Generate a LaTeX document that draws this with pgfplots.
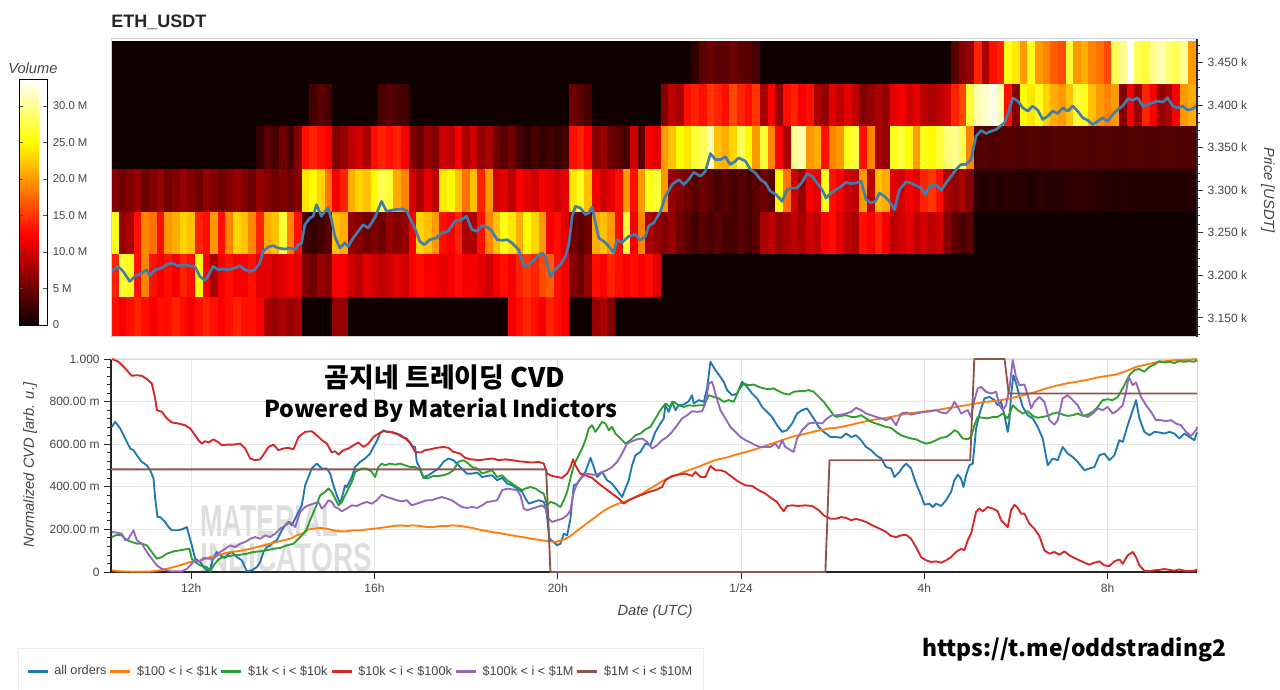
\documentclass[border=0pt]{standalone}
\usepackage{fontspec}
\setmainfont{Liberation Sans}
\newfontfamily\krfont{Noto Sans CJK KR}
\usepackage{graphicx}
\usepackage{pgfplots}
\usepackage{pgfplotstable}
\pgfplotsset{compat=1.18}
\definecolor{cblue}{HTML}{1F77B4}
\definecolor{corange}{HTML}{FF7F0E}
\definecolor{cgreen}{HTML}{2CA02C}
\definecolor{cred}{HTML}{D62728}
\definecolor{cpurple}{HTML}{9467BD}
\definecolor{cbrown}{HTML}{8C564B}
\definecolor{pricecol}{RGB}{65,125,175}
\definecolor{lblgray}{RGB}{68,68,68}
\definecolor{gridgray}{RGB}{230,230,230}
\definecolor{wmgray}{RGB}{220,222,224}

\pgfdeclareplotmark{cell}{%
  \pgfpathrectangle{\pgfqpoint{-2.95pt}{-16.1pt}}{\pgfqpoint{5.9pt}{32.2pt}}%
  \pgfusepathqfill}

\pgfplotstableread{
t r1 r2 r3 r4 r5 r6 r7 r8
10.333 13 14 26 6 0.3 0.3 0.3 0.3
10.500 12 27 7 5 0.3 0.3 0.3 0.3
10.667 13 26 8 6 0.3 0.3 0.3 0.3
10.833 14 13 13 7 0.3 0.3 0.3 0.3
11.000 13 19 19 5 0.3 0.3 0.3 0.3
11.167 12 13 18 6 0.3 0.3 0.3 0.3
11.333 13 12 13 7 0.3 0.3 0.3 0.3
11.500 13 13 20 5 0.3 0.3 0.3 0.3
11.667 14 12 21 6 0.3 0.3 0.3 0.3
11.833 13 14 23 7 0.3 0.3 0.3 0.3
12.000 12 13 22 6 0.3 0.3 0.3 0.3
12.167 13 25 14 5 0.3 0.3 0.3 0.3
12.333 14 12 13 7 0.3 0.3 0.3 0.3
12.500 13 8 20 6 0.3 0.3 0.3 0.3
12.667 12 12 13 5 0.3 0.3 0.3 0.3
12.833 13 13 19 6 0.3 0.3 0.3 0.3
13.000 14 12 23 7 0.3 0.3 0.3 0.3
13.167 13 12 22 6 0.3 0.3 0.3 0.3
13.333 13 13 19 5 0.3 0.3 0.3 0.3
13.500 12 11 14 7 2 0.3 0.3 0.3
13.667 8 11 21 6 4 0.3 0.3 0.3
13.833 7 10 22 5 3 0.3 0.3 0.3
14.000 8 11 27 6 5 0.3 0.3 0.3
14.167 7 12 19 5 3 0.3 0.3 0.3
14.333 8 11 13 6 6 0.3 0.3 0.3
14.500 0.3 6 3 24 13 0.3 0.3 0.3
14.667 0.3 5 2 25 14 3 0.3 0.3
14.833 0.3 7 3 23 13 4 0.3 0.3
15.000 0.3 6 4 18 12 3 0.3 0.3
15.167 7 12 22 12 6 0.3 0.3 0.3
15.333 7 12 21 14 7 0.3 0.3 0.3
15.500 0.3 10 7 21 9 0.3 0.3 0.3
15.667 0.3 9 6 23 10 0.3 0.3 0.3
15.833 0.3 11 5 22 8 0.3 0.3 0.3
16.000 0.3 10 6 25 13 0.3 0.3 0.3
16.167 0.3 9 5 28 14 3 0.3 0.3
16.333 0.3 10 7 27 13 4 0.3 0.3
16.500 0.3 11 6 21 14 3 0.3 0.3
16.667 0.3 10 7 19 12 3 0.3 0.3
16.833 0.3 12 12 10 6 0.3 0.3 0.3
17.000 0.3 13 23 8 5 0.3 0.3 0.3
17.167 0.3 12 22 11 7 0.3 0.3 0.3
17.333 0.3 12 20 9 6 0.3 0.3 0.3
17.500 0.3 11 13 24 10 0.3 0.3 0.3
17.667 0.3 12 12 25 9 0.3 0.3 0.3
17.833 0.3 13 14 22 12 0.3 0.3 0.3
18.000 0.3 12 8 18 8 0.3 0.3 0.3
18.167 0.3 12 8 22 10 0.3 0.3 0.3
18.333 0.3 11 13 14 7 0.3 0.3 0.3
18.500 0.3 10 19 20 8 0.3 0.3 0.3
18.667 0.3 12 22 10 5 0.3 0.3 0.3
18.833 0.3 13 26 11 4 0.3 0.3 0.3
19.000 12 12 24 9 5 0.3 0.3 0.3
19.167 13 14 21 12 3 0.3 0.3 0.3
19.333 14 15 25 11 2 0.3 0.3 0.3
19.500 13 14 23 10 3 0.3 0.3 0.3
19.667 12 16 20 12 2 0.3 0.3 0.3
19.833 14 17 12 11 3 0.3 0.3 0.3
20.000 13 13 13 10 2 0.3 0.3 0.3
20.167 12 12 11 11 3 0.3 0.3 0.3
20.333 0.3 6 5 24 13 5 0.3 0.3
20.500 0.3 5 4 26 14 4 0.3 0.3
20.667 0.3 7 5 22 12 3 0.3 0.3
20.833 7 13 21 12 6 0.3 0.3 0.3
21.000 8 12 22 10 7 0.3 0.3 0.3
21.167 6 14 20 11 5 0.3 0.3 0.3
21.333 0.3 13 13 13 4 0.3 0.3 0.3
21.500 0.3 12 27 20 3 0.3 0.3 0.3
21.667 0.3 13 12 13 10 0.3 0.3 0.3
21.833 0.3 12 19 20 4 0.3 0.3 0.3
22.000 0.3 13 8 26 12 0.3 0.3 0.3
22.167 0.3 11 7 27 11 0.3 0.3 0.3
22.333 0.3 0.3 6 20 20 6 0.3 0.3
22.500 0.3 0.3 7 7 22 9 0.3 0.3
22.667 0.3 0.3 5 6 25 8 0.3 0.3
22.833 0.3 0.3 4 5 24 13 0.3 0.3
23.000 0.3 0.3 3 4 27 14 2 0.3
23.167 0.3 0.3 4 5 28 13 4 0.3
23.333 0.3 0.3 3 4 31 15 5 0.3
23.500 0.3 0.3 4 3 22 14 4 0.3
23.667 0.3 0.3 3 4 21 13 4 0.3
23.833 0.3 0.3 3 3 23 16 5 0.3
24.000 0.3 0.3 4 4 28 14 4 0.3
24.167 0.3 0.3 3 3 25 13 4 0.3
24.333 0.3 0.3 4 4 20 15 3 0.3
24.500 0.3 0.3 8 5 27 8 0.3 0.3
24.667 0.3 0.3 9 4 19 12 0.3 0.3
24.833 0.3 0.3 7 25 12 7 0.3 0.3
25.000 0.3 0.3 8 18 8 13 0.3 0.3
25.167 0.3 0.3 9 10 30 14 0.3 0.3
25.333 0.3 0.3 8 7 31 12 0.3 0.3
25.500 0.3 0.3 10 12 20 13 0.3 0.3
25.667 0.3 0.3 9 11 21 8 0.3 0.3
25.833 0.3 0.3 12 26 13 7 0.3 0.3
26.000 0.3 0.3 13 13 19 11 0.3 0.3
26.167 0.3 0.3 11 12 20 9 0.3 0.3
26.333 0.3 0.3 9 10 26 11 0.3 0.3
26.500 0.3 0.3 8 9 27 9 0.3 0.3
26.667 0.3 0.3 13 20 13 6 0.3 0.3
26.833 0.3 0.3 12 9 19 7 0.3 0.3
27.000 0.3 0.3 14 22 8 8 0.3 0.3
27.167 0.3 0.3 12 21 7 7 0.3 0.3
27.333 0.3 0.3 9 11 26 11 0.3 0.3
27.500 0.3 0.3 10 10 27 12 0.3 0.3
27.667 0.3 0.3 11 12 25 10 0.3 0.3
27.833 0.3 0.3 9 11 20 11 0.3 0.3
28.000 0.3 0.3 10 14 26 9 0.3 0.3
28.167 0.3 0.3 9 15 25 8 0.3 0.3
28.333 0.3 0.3 10 13 27 9 0.3 0.3
28.500 0.3 0.3 6 8 29 10 0.3 0.3
28.667 0.3 0.3 4 7 30 14 4 4
28.833 0.3 0.3 3 8 28 16 6 4
29.000 0.3 0.3 4 6 19 27 7 4
29.167 0.3 0.3 0.3 1.5 3.5 31 14 4
29.333 0.3 0.3 0.3 1.2 3.6 32 8 4
29.500 0.3 0.3 0.3 1.6 3.4 33 13 4
29.667 0.3 0.3 0.3 1.3 3.5 31 14 4
29.833 0.3 0.3 0.3 1.8 3.7 13 26 14
30.000 0.3 0.3 0.3 1.4 3.5 6 24 14
30.167 0.3 0.3 0.3 1.5 3.3 25 20 14
30.333 0.3 0.3 0.3 1.2 3.6 24 26 14
30.500 0.3 0.3 0.3 1.6 3.5 26 20 14
30.667 0.3 0.3 0.3 1.4 3.4 23 19 14
30.833 0.3 0.3 0.3 1.3 3.6 21 17 14
31.000 0.3 0.3 0.3 1.5 3.5 20 16 14
31.167 0.3 0.3 0.3 1.7 3.7 22 27 14
31.333 0.3 0.3 0.3 1.8 3.5 27 20 14
31.500 0.3 0.3 0.3 1.9 3.6 26 21 14
31.667 0.3 0.3 0.3 1.8 3.4 22 19 14
31.833 0.3 0.3 0.3 1.5 3.5 20 18 14
32.000 0.3 0.3 0.3 1.3 3.6 19 16 14
32.167 0.3 0.3 0.3 1.2 3.5 20 28 14
32.333 0.3 0.3 0.3 1.4 3.4 6 30 14
32.500 0.3 0.3 0.3 1.3 3.5 12 33.5 14
32.667 0.3 0.3 0.3 1.2 3.6 7 28 14
32.833 0.3 0.3 0.3 1.3 3.5 14 27 14
33.000 0.3 0.3 0.3 1.2 3.4 12 30 14
33.167 0.3 0.3 0.3 1.3 3.5 7 31 14
33.333 0.3 0.3 0.3 1.2 3.6 8 29 14
33.500 0.3 0.3 0.3 1.3 3.5 12 28 14
33.667 0.3 0.3 0.3 1.2 3.4 20 30 14
33.833 0.3 0.3 0.3 1.3 3.5 21 20 14
34.000 0.3 0.3 0.3 1.2 3.5 20 21 14
}\heat

\pgfplotsset{
  cellrow/.style={scatter, only marks, mark=cell, point meta=explicit,
    scatter/use mapped color={draw=none, fill=mapped color}},
}

\begin{document}
\begin{tikzpicture}[x=1pt,y=1pt]
\useasboundingbox (0,0) rectangle (960,-516.75);

% watermark
\node[anchor=south west, inner sep=0, text=wmgray] at (150,-402.5) {\resizebox{103.5pt}{23pt}{\bfseries MATERIAL}};
\node[anchor=south west, inner sep=0, text=wmgray] at (150,-429) {\resizebox{129pt}{21pt}{\bfseries INDICATORS}};

% ---------------- heatmap ----------------
\begin{axis}[
  at={(83.25pt,-28.875pt)}, anchor=north west,
  scale only axis, width=814.5pt, height=223.5pt,
  xmin=10.25, xmax=33.95, ymin=3128, ymax=3478,
  axis x line=none, axis y line*=right,
  axis on top,
  clip marker paths=true,
  colormap={hotmap}{rgb255(0cm)=(10,0,0) rgb255(3.65cm)=(255,0,0) rgb255(7.46cm)=(255,255,0) rgb255(10cm)=(255,255,255)},
  point meta min=0, point meta max=33.7,
  ytick={3150,3200,3250,3300,3350,3400,3450},
  yticklabels={3.150 k,3.200 k,3.250 k,3.300 k,3.350 k,3.400 k,3.450 k},
  minor ytick={3130,3140,...,3470},
  tick align=outside, major tick length=4.5pt, minor tick length=2.5pt,
  tick style={black!80, line width=0.6pt},
  yticklabel style={font=\fontsize{9}{10}\selectfont, text=lblgray},
  y axis line style={black!85, line width=0.8pt},
  colorbar,
  colorbar style={
    at={(parent axis.north west)}, anchor=north west,
    xshift=-77.25pt, yshift=-30.375pt,
    scale only axis, width=21pt, height=184.5pt,
    ytick={0,5,10,15,20,25,30},
    yticklabels={0,5 M,10.0 M,15.0 M,20.0 M,25.0 M,30.0 M},
    yticklabel pos=right,
    yticklabel style={font=\fontsize{8.5}{10}\selectfont, text=lblgray, xshift=0.5pt},
    minor ytick={},
    tick align=inside, major tick length=3pt,
    ytick style={black!70},
    axis line style={black, line width=0.6pt},
  },
]
\addplot[cellrow] table[x=t, y expr=3150, meta=r1] {\heat};
\addplot[cellrow] table[x=t, y expr=3200, meta=r2] {\heat};
\addplot[cellrow] table[x=t, y expr=3250, meta=r3] {\heat};
\addplot[cellrow] table[x=t, y expr=3300, meta=r4] {\heat};
\addplot[cellrow] table[x=t, y expr=3350, meta=r5] {\heat};
\addplot[cellrow] table[x=t, y expr=3400, meta=r6] {\heat};
\addplot[cellrow] table[x=t, y expr=3450, meta=r7] {\heat};
\addplot[cellrow] table[x=t, y expr=3500, meta=r8] {\heat};
\addplot[pricecol, line width=2pt, line join=round, no marks] coordinates {
(10.247,3204.4)(10.407,3210.3)(10.516,3204.4)(10.662,3192.7)(10.771,3198.6)(10.916,3202.5)(11.025,3206.4)(11.098,3199.4)(11.207,3206.4)(11.353,3208.4)(11.462,3212.3)(11.571,3214.3)(11.716,3211.1)(11.862,3212.3)(11.971,3211.1)(12.080,3210.3)(12.189,3198.6)(12.298,3193.9)(12.371,3199.4)(12.480,3210.3)(12.589,3206.4)(12.698,3207.2)(12.807,3206.4)(12.953,3208.4)(13.062,3211.1)(13.171,3206.4)(13.280,3204.4)(13.389,3206.4)(13.498,3214.3)(13.571,3228.0)(13.680,3233.1)(13.789,3234.6)(13.898,3231.9)(14.044,3230.7)(14.153,3231.9)(14.262,3229.9)(14.335,3235.8)(14.407,3237.0)(14.480,3259.4)(14.589,3267.2)(14.662,3269.2)(14.735,3282.9)(14.844,3269.2)(14.916,3275.0)(14.989,3279.0)(15.062,3265.3)(15.135,3245.6)(15.244,3231.9)(15.353,3237.8)(15.425,3233.9)(15.535,3243.7)(15.644,3251.5)(15.753,3259.4)(15.862,3255.4)(16.007,3267.2)(16.153,3286.8)(16.262,3275.0)(16.444,3277.0)(16.589,3277.8)(16.698,3275.8)(16.771,3267.2)(16.880,3255.4)(16.989,3239.7)(17.084,3235.8)(17.207,3241.7)(17.353,3243.7)(17.462,3249.6)(17.607,3251.5)(17.753,3263.3)(17.898,3265.3)(18.007,3269.2)(18.080,3259.4)
(18.131,3253.5)(18.240,3251.5)(18.349,3258.2)(18.458,3256.6)(18.567,3251.5)(18.676,3241.7)(18.786,3240.9)(18.895,3241.7)(19.004,3237.8)(19.149,3229.9)(19.258,3211.1)(19.367,3212.3)(19.476,3217.4)(19.585,3224.0)(19.673,3226.0)(19.746,3219.0)(19.840,3197.8)(19.949,3207.2)(20.058,3212.3)(20.167,3222.1)(20.240,3235.8)(20.313,3269.2)(20.385,3280.9)(20.495,3279.0)(20.604,3271.1)(20.676,3273.1)(20.749,3280.2)(20.822,3261.3)(20.895,3243.7)(21.004,3239.7)(21.113,3233.9)(21.222,3226.8)(21.295,3241.7)(21.404,3238.6)(21.549,3245.6)(21.695,3247.6)(21.804,3240.9)(21.913,3245.6)(21.986,3258.2)(22.095,3261.3)(22.240,3275.0)(22.349,3292.7)(22.495,3306.4)(22.640,3312.3)(22.749,3306.4)(22.858,3312.3)(22.967,3320.9)(23.113,3316.2)(23.222,3322.1)(23.331,3342.9)(23.440,3335.8)(23.549,3335.8)(23.658,3339.0)(23.767,3330.0)(23.876,3333.9)(23.949,3337.8)(24.095,3333.9)(24.204,3324.1)(24.313,3320.1)(24.422,3312.3)(24.531,3308.4)(24.640,3298.6)(24.764,3294.6)(24.895,3286.8)(25.004,3300.5)(25.113,3302.5)(25.222,3302.5)(25.331,3309.2)(25.440,3319.4)(25.549,3316.2)(25.658,3308.4)(25.767,3300.5)(25.855,3290.7)(25.949,3295.8)
(26.074,3300.5)(26.183,3304.4)(26.292,3309.2)(26.401,3307.6)(26.510,3308.4)(26.619,3310.3)(26.729,3288.8)(26.838,3284.8)(26.932,3286.8)(27.019,3296.6)(27.129,3292.7)(27.238,3286.8)(27.347,3277.0)(27.456,3300.5)(27.601,3309.6)(27.710,3308.4)(27.819,3305.2)(27.929,3302.5)(28.023,3294.6)(28.110,3304.4)(28.256,3306.4)(28.365,3299.7)(28.474,3308.4)(28.583,3316.2)(28.692,3324.1)(28.801,3330.0)(28.910,3330.0)(29.019,3335.8)(29.129,3363.3)(29.238,3370.0)(29.347,3366.5)(29.456,3369.2)(29.565,3371.1)(29.674,3375.8)(29.747,3379.0)(29.856,3394.7)(29.929,3408.4)(30.038,3404.5)(30.147,3396.6)(30.256,3392.7)(30.365,3398.6)(30.474,3393.9)(30.583,3382.9)(30.692,3386.8)(30.801,3392.7)(30.910,3390.0)(31.019,3396.6)(31.129,3392.7)(31.238,3398.6)(31.347,3392.7)(31.456,3384.8)(31.565,3382.1)(31.674,3377.0)(31.783,3380.9)(31.892,3384.8)(32.001,3380.9)(32.110,3388.8)(32.220,3394.7)(32.329,3398.6)(32.438,3407.2)(32.547,3405.6)(32.656,3408.4)(32.765,3398.6)(32.874,3400.5)(32.983,3402.5)(33.092,3404.5)(33.201,3403.3)(33.310,3408.4)(33.420,3398.6)(33.529,3396.6)(33.638,3398.6)(33.747,3393.9)(33.856,3395.5)(33.950,3399.4)
};
\draw[gray!35, line width=0.6pt] (rel axis cs:0,0) -- (rel axis cs:0,1) -- (rel axis cs:1,1);
\draw[gray!35, line width=0.6pt] (rel axis cs:0,0) -- (rel axis cs:1,0);
\end{axis}

% ---------------- CVD ----------------
\begin{axis}[
  at={(83.25pt,-269.25pt)}, anchor=north west,
  scale only axis, width=814.5pt, height=159.75pt,
  xmin=10.25, xmax=33.95, ymin=0, ymax=1000,
  axis x line*=bottom, axis y line*=left,
  clip=false,
  xtick={12,16,20,24,28,32}, xticklabels={12h,16h,20h,1/24,4h,8h},
  ytick={0,200,400,600,800,1000},
  yticklabels={0,200.00 m,400.00 m,600.00 m,800.00 m,1.000},
  minor ytick={40,80,...,960},
  tick align=outside, major tick length=5pt, minor tick length=3pt,
  tick style={black!85, line width=0.7pt},
  xmajorgrids, ymajorgrids,
  major grid style={gridgray, line width=0.8pt},
  axis line style={black!85, line width=0.8pt},
  ticklabel style={font=\fontsize{9}{10}\selectfont, text=lblgray},
  every axis plot/.append style={line width=1.4pt, line join=round, no marks},
  legend columns=6,
  legend style={at={(-0.0856,-0.357)}, anchor=north west, draw=gray!15, fill=white,
    font=\fontsize{9.5}{11}\selectfont, text=lblgray, inner xsep=6pt, inner ysep=11pt,
    /tikz/every odd column/.append style={column sep=2pt}},
  legend image code/.code={\draw[#1, line width=2pt] (0pt,0pt) -- (15pt,0pt);},
]
\draw[gray!30, line width=0.6pt] (rel axis cs:0,1) -- (rel axis cs:1,1) -- (rel axis cs:1,0);

\addplot[cblue] coordinates {
(10.269,681)(10.341,705)(10.450,674)(10.559,627)(10.669,580)(10.741,572)(10.814,548)(10.923,517)(11.032,501)(11.105,478)(11.178,439)(11.214,345)(11.265,258)(11.323,258)(11.432,235)(11.505,211)(11.578,196)(11.723,196)(11.832,203)(11.905,211)(11.963,164)(12.014,125)(12.087,62)(12.196,47)(12.269,23)(12.341,8)(12.414,15)(12.487,70)(12.559,94)(12.632,78)(12.741,66)(12.814,86)(12.887,94)(12.996,70)(13.105,55)(13.214,3)(13.323,8)(13.432,23)(13.505,47)(13.578,94)(13.650,117)(13.723,125)(13.796,141)(13.869,149)(13.941,180)(13.978,196)(14.050,219)(14.123,235)(14.196,219)(14.269,250)(14.341,282)(14.414,313)(14.487,407)(14.559,446)(14.632,486)(14.741,509)(14.850,486)(14.959,486)(15.032,462)(15.105,407)(15.178,360)(15.250,321)(15.323,376)(15.359,407)(15.396,399)(15.432,415)(15.505,446)(15.578,493)(15.687,517)(15.796,533)(15.905,556)(15.978,587)(16.050,614)(16.123,650)(16.196,666)(16.269,658)(16.378,658)(16.487,650)(16.596,634)(16.705,627)(16.814,592)(16.887,587)(16.923,517)(16.996,486)(17.069,446)(17.178,454)(17.287,470)(17.396,486)(17.505,517)(17.614,533)(17.723,525)(17.832,501)(17.941,478)(18.014,462)
(18.131,462)(18.240,467)(18.349,446)(18.458,451)(18.567,454)(18.676,431)(18.786,442)(18.895,415)(19.004,407)(19.113,392)(19.222,376)(19.295,345)(19.367,321)(19.476,329)(19.585,337)(19.695,329)(19.746,298)(19.818,156)(19.913,141)(19.985,125)(20.058,133)(20.131,180)(20.204,172)(20.276,250)(20.349,407)(20.422,415)(20.495,439)(20.604,470)(20.713,536)(20.786,493)(20.858,446)(20.967,470)(21.076,431)(21.185,415)(21.295,384)(21.404,352)(21.476,392)(21.549,431)(21.622,501)(21.695,548)(21.804,564)(21.913,603)(22.022,595)(22.131,658)(22.240,697)(22.313,721)(22.349,783)(22.422,752)(22.495,799)(22.567,760)(22.640,783)(22.749,786)(22.858,802)(22.931,830)(22.967,791)(23.076,807)(23.186,799)(23.258,862)(23.331,987)(23.440,948)(23.549,916)(23.622,893)(23.695,854)(23.804,830)(23.913,838)(24.022,893)(24.131,869)(24.240,838)(24.349,815)(24.458,775)(24.567,752)(24.676,728)(24.785,689)(24.895,658)(25.004,666)(25.113,697)(25.222,744)(25.331,760)(25.440,768)(25.513,744)(25.586,721)(25.695,681)(25.804,658)(25.949,634)
(26.074,634)(26.183,630)(26.292,650)(26.401,634)(26.510,642)(26.619,619)(26.729,587)(26.838,572)(26.947,548)(27.056,533)(27.165,493)(27.274,486)(27.347,446)(27.456,470)(27.529,493)(27.601,509)(27.710,486)(27.819,415)(27.929,360)(28.001,316)(28.110,321)(28.183,305)(28.256,321)(28.365,310)(28.474,337)(28.583,376)(28.656,431)(28.729,457)(28.801,439)(28.852,399)(28.910,454)(28.983,501)(29.056,509)(29.129,674)(29.216,752)(29.310,815)(29.419,822)(29.529,807)(29.601,783)(29.674,799)(29.747,736)(29.819,658)(29.856,713)(29.892,830)(29.943,924)(30.001,885)(30.074,830)(30.147,775)(30.256,736)(30.365,721)(30.474,681)(30.583,627)(30.692,501)(30.801,533)(30.910,525)(31.019,587)(31.129,556)(31.238,540)(31.347,517)(31.492,478)(31.601,486)(31.710,493)(31.819,548)(31.929,556)(32.038,525)(32.147,548)(32.256,619)(32.329,611)(32.438,689)(32.547,760)(32.619,807)(32.692,721)(32.801,658)(32.910,642)(33.019,658)(33.128,655)(33.237,650)(33.347,658)(33.456,650)(33.565,627)(33.674,650)(33.783,634)(33.892,619)(33.950,655)
};
\addlegendentry{all orders}

\addplot[corange] coordinates {
(10.269,8)(10.450,3)(10.669,2)(10.887,2)(11.105,2)(11.323,8)(11.469,15)(11.614,23)(11.796,34)(11.978,47)(12.123,50)(12.269,59)(12.414,70)(12.559,78)(12.705,86)(12.850,94)(12.996,97)(13.141,102)(13.287,109)(13.432,117)(13.578,125)(13.723,133)(13.869,141)(14.014,149)(14.159,156)(14.305,172)(14.414,180)(14.487,188)(14.559,200)(14.669,203)(14.814,207)(14.959,203)(15.105,196)(15.250,191)(15.396,191)(15.541,196)(15.687,196)(15.832,200)(15.978,203)(16.123,207)(16.269,211)(16.414,216)(16.559,219)(16.705,216)(16.850,219)(16.996,216)(17.141,211)(17.287,211)(17.432,216)(17.578,216)(17.723,219)(17.869,216)(18.014,211)
(18.131,207)(18.349,196)(18.567,188)(18.786,180)(19.004,172)(19.222,164)(19.440,156)(19.658,149)(19.804,144)(19.949,141)(20.095,149)(20.240,164)(20.386,188)(20.531,211)(20.676,235)(20.822,258)(20.967,282)(21.113,301)(21.258,316)(21.404,326)(21.549,337)(21.695,352)(21.840,368)(21.986,388)(22.131,407)(22.276,426)(22.422,442)(22.567,454)(22.713,467)(22.858,478)(23.004,489)(23.149,501)(23.295,514)(23.440,525)(23.586,533)(23.731,540)(23.877,551)(24.022,559)(24.167,567)(24.313,576)(24.458,587)(24.604,598)(24.749,608)(24.895,619)(25.040,630)(25.186,639)(25.331,645)(25.476,653)(25.622,661)(25.767,667)(25.913,674)
(26.074,677)(26.292,686)(26.510,697)(26.729,708)(26.947,717)(27.165,724)(27.383,733)(27.601,743)(27.819,749)(28.038,755)(28.256,760)(28.474,768)(28.692,775)(28.910,783)(29.129,791)(29.347,799)(29.565,804)(29.783,811)(30.001,822)(30.220,833)(30.438,846)(30.656,862)(30.874,874)(31.092,885)(31.310,893)(31.529,901)(31.747,912)(31.965,920)(32.183,927)(32.401,943)(32.619,963)(32.838,974)(33.056,984)(33.274,990)(33.492,995)(33.710,996)(33.950,1000)
};
\addlegendentry{\$100 < i < \$1k}

\addplot[cgreen] coordinates {
(10.269,164)(10.378,175)(10.487,172)(10.596,149)(10.705,141)(10.814,133)(10.923,133)(11.032,125)(11.141,94)(11.250,62)(11.359,70)(11.469,86)(11.614,97)(11.759,102)(11.869,106)(11.963,109)(12.014,62)(12.087,47)(12.196,31)(12.341,23)(12.414,3)(12.487,31)(12.596,59)(12.705,70)(12.814,75)(12.923,78)(13.069,81)(13.214,86)(13.359,94)(13.505,97)(13.650,102)(13.796,109)(13.941,113)(14.087,125)(14.232,133)(14.341,156)(14.450,180)(14.523,203)(14.596,243)(14.705,298)(14.814,360)(14.923,376)(14.996,392)(15.069,376)(15.141,345)(15.214,313)(15.287,329)(15.359,360)(15.432,392)(15.505,423)(15.578,470)(15.650,478)(15.723,486)(15.832,486)(15.941,470)(16.014,446)(16.087,493)(16.159,509)(16.232,501)(16.341,509)(16.450,504)(16.559,509)(16.669,501)(16.778,493)(16.887,493)(16.996,478)(17.069,442)(17.178,442)(17.287,451)(17.396,451)(17.505,454)(17.614,462)(17.723,478)(17.832,517)(17.941,525)(18.050,509)
(18.131,493)(18.240,486)(18.349,462)(18.458,470)(18.567,478)(18.676,446)(18.786,454)(18.895,431)(19.004,415)(19.113,399)(19.222,384)(19.295,392)(19.404,399)(19.513,392)(19.622,376)(19.695,368)(19.767,313)(19.840,329)(19.949,321)(20.058,305)(20.131,337)(20.204,376)(20.276,439)(20.349,501)(20.422,533)(20.531,580)(20.604,619)(20.676,674)(20.749,689)(20.822,658)(20.895,681)(20.967,705)(21.040,697)(21.113,666)(21.185,681)(21.258,650)(21.367,627)(21.476,603)(21.585,619)(21.695,642)(21.804,650)(21.913,670)(22.022,681)(22.131,721)(22.240,760)(22.349,791)(22.458,775)(22.531,799)(22.640,783)(22.749,775)(22.858,783)(22.967,780)(23.076,783)(23.186,783)(23.295,830)(23.404,822)(23.513,815)(23.622,799)(23.731,807)(23.840,799)(23.949,854)(24.058,885)(24.167,877)(24.277,880)(24.386,869)(24.495,862)(24.604,858)(24.713,862)(24.822,849)(24.931,838)(25.040,833)(25.149,846)(25.258,849)(25.367,849)(25.476,854)(25.586,846)(25.695,822)(25.804,799)(25.913,768)(26.022,736)
(26.074,728)(26.183,733)(26.292,736)(26.401,728)(26.510,728)(26.619,736)(26.729,721)(26.838,705)(26.947,697)(27.056,689)(27.165,681)(27.274,677)(27.383,658)(27.492,642)(27.601,634)(27.710,627)(27.819,623)(27.929,611)(28.038,603)(28.147,608)(28.256,619)(28.365,630)(28.474,634)(28.583,650)(28.656,666)(28.729,658)(28.838,627)(28.947,623)(29.019,634)(29.092,689)(29.165,728)(29.274,724)(29.383,721)(29.492,728)(29.601,728)(29.710,744)(29.819,721)(29.929,783)(30.038,760)(30.147,744)(30.256,755)(30.365,733)(30.474,724)(30.583,728)(30.692,733)(30.801,744)(30.910,749)(31.019,739)(31.129,733)(31.238,736)(31.347,744)(31.456,733)(31.565,739)(31.674,752)(31.783,775)(31.892,807)(32.001,811)(32.110,807)(32.220,822)(32.329,862)(32.401,893)(32.474,924)(32.583,948)(32.692,953)(32.801,940)(32.910,963)(33.019,974)(33.128,990)(33.237,984)(33.347,987)(33.456,981)(33.565,990)(33.674,987)(33.783,990)(33.892,987)(33.950,995)
};
\addlegendentry{\$1k < i < \$10k}

\addplot[cred] coordinates {
(10.269,1000)(10.414,987)(10.559,956)(10.705,921)(10.814,924)(10.923,921)(11.032,906)(11.141,885)(11.214,815)(11.250,760)(11.359,752)(11.469,721)(11.578,702)(11.723,697)(11.869,689)(11.978,674)(12.087,642)(12.159,619)(12.232,603)(12.305,614)(12.378,608)(12.487,623)(12.596,608)(12.669,595)(12.778,598)(12.923,598)(13.069,603)(13.178,580)(13.287,533)(13.396,525)(13.505,529)(13.578,551)(13.687,587)(13.796,598)(13.905,572)(14.014,580)(14.123,583)(14.232,576)(14.341,634)(14.487,658)(14.632,661)(14.741,642)(14.850,619)(14.959,603)(15.069,561)(15.141,567)(15.214,551)(15.323,572)(15.432,580)(15.541,595)(15.650,608)(15.759,587)(15.869,603)(15.978,634)(16.087,650)(16.196,661)(16.341,658)(16.450,650)(16.559,645)(16.669,627)(16.778,608)(16.887,564)(17.014,561)(17.105,572)(17.214,576)(17.359,583)(17.505,587)(17.614,583)(17.723,564)(17.869,556)(17.978,536)(18.087,529)
(18.131,529)(18.276,525)(18.422,529)(18.567,533)(18.713,525)(18.858,529)(19.004,525)(19.149,520)(19.295,517)(19.440,514)(19.585,517)(19.695,509)(19.767,462)(19.876,451)(19.985,446)(20.095,442)(20.204,462)(20.276,493)(20.335,529)(20.386,501)(20.444,478)(20.495,462)(20.604,454)(20.749,442)(20.895,415)(21.040,391)(21.185,368)(21.331,345)(21.440,321)(21.549,337)(21.695,352)(21.840,363)(21.986,376)(22.131,384)(22.276,399)(22.349,431)(22.495,451)(22.640,457)(22.785,462)(22.931,451)(23.004,470)(23.113,446)(23.222,446)(23.331,498)(23.440,478)(23.549,478)(23.658,470)(23.804,446)(23.949,423)(24.095,407)(24.240,404)(24.386,384)(24.531,368)(24.676,344)(24.785,329)(24.858,305)(24.931,285)(25.004,310)(25.113,313)(25.258,310)(25.404,313)(25.549,310)(25.695,290)(25.804,266)(25.949,250)
(26.074,250)(26.183,258)(26.292,254)(26.401,243)(26.510,250)(26.619,243)(26.729,235)(26.838,222)(26.947,211)(27.056,200)(27.165,188)(27.274,169)(27.383,164)(27.492,172)(27.601,175)(27.710,156)(27.819,117)(27.929,70)(28.038,55)(28.147,47)(28.256,50)(28.365,44)(28.474,55)(28.583,70)(28.692,94)(28.801,109)(28.874,102)(28.947,149)(29.019,180)(29.129,282)(29.201,298)(29.274,285)(29.383,305)(29.492,298)(29.601,285)(29.674,243)(29.747,227)(29.819,211)(29.892,290)(29.965,316)(30.038,301)(30.110,274)(30.183,274)(30.292,227)(30.401,203)(30.510,169)(30.619,102)(30.729,86)(30.838,94)(30.947,81)(31.056,97)(31.165,78)(31.274,66)(31.383,55)(31.492,44)(31.601,34)(31.710,44)(31.819,50)(31.929,31)(32.038,28)(32.147,50)(32.256,59)(32.329,39)(32.438,78)(32.547,94)(32.619,70)(32.692,31)(32.801,6)(32.910,4)(33.019,8)(33.128,10)(33.237,14)(33.347,10)(33.456,6)(33.565,12)(33.674,6)(33.783,4)(33.892,6)(33.950,12)
};
\addlegendentry{\$10k < i < \$100k}

\addplot[cpurple] coordinates {
(10.269,188)(10.378,185)(10.487,180)(10.559,149)(10.632,156)(10.741,196)(10.814,149)(10.923,133)(11.032,94)(11.141,62)(11.250,31)(11.359,15)(11.469,8)(11.578,3)(11.687,3)(11.796,3)(11.905,15)(12.014,39)(12.087,55)(12.196,50)(12.269,66)(12.378,62)(12.487,62)(12.559,78)(12.632,94)(12.741,109)(12.850,125)(12.959,117)(13.069,133)(13.178,141)(13.287,156)(13.396,164)(13.505,156)(13.614,172)(13.723,164)(13.832,180)(13.941,203)(14.050,219)(14.159,235)(14.269,211)(14.378,282)(14.487,305)(14.559,313)(14.669,321)(14.778,329)(14.850,298)(14.923,313)(14.996,337)(15.069,329)(15.141,305)(15.214,298)(15.287,285)(15.396,298)(15.505,313)(15.614,310)(15.723,321)(15.832,329)(15.941,321)(16.050,337)(16.159,363)(16.269,352)(16.378,345)(16.487,337)(16.596,332)(16.705,337)(16.814,313)(16.923,321)(17.032,329)(17.141,337)(17.250,337)(17.359,345)(17.469,352)(17.578,345)(17.687,337)(17.796,321)(17.905,305)(18.014,301)
(18.131,305)(18.240,301)(18.349,313)(18.458,329)(18.567,332)(18.676,337)(18.786,384)(18.895,391)(19.004,388)(19.113,384)(19.186,360)(19.258,298)(19.331,290)(19.440,298)(19.549,305)(19.658,313)(19.731,298)(19.804,250)(19.876,235)(19.985,243)(20.095,250)(20.204,266)(20.276,290)(20.349,376)(20.422,415)(20.531,446)(20.640,462)(20.749,457)(20.858,457)(20.967,470)(21.076,478)(21.185,493)(21.295,517)(21.404,556)(21.513,603)(21.622,614)(21.731,623)(21.840,627)(21.949,611)(22.058,580)(22.167,595)(22.276,619)(22.386,634)(22.495,658)(22.604,689)(22.713,721)(22.822,736)(22.931,755)(23.040,752)(23.149,755)(23.222,791)(23.295,885)(23.367,893)(23.440,838)(23.549,760)(23.658,721)(23.767,681)(23.876,658)(23.986,634)(24.095,619)(24.204,608)(24.313,595)(24.422,587)(24.531,587)(24.640,587)(24.749,603)(24.822,580)(24.895,619)(24.967,587)(25.077,572)(25.149,564)(25.222,627)(25.331,666)(25.476,697)(25.622,702)(25.767,697)(25.877,721)(25.986,736)
(26.074,736)(26.183,739)(26.292,744)(26.401,752)(26.510,771)(26.619,760)(26.729,744)(26.838,736)(26.947,728)(27.056,721)(27.165,713)(27.274,724)(27.383,689)(27.492,744)(27.601,749)(27.710,739)(27.819,744)(27.929,749)(28.038,752)(28.147,755)(28.256,760)(28.365,749)(28.474,744)(28.583,768)(28.656,799)(28.729,775)(28.801,744)(28.874,752)(28.947,760)(29.019,728)(29.092,807)(29.165,862)(29.238,869)(29.347,846)(29.456,838)(29.565,846)(29.638,783)(29.710,760)(29.783,783)(29.856,862)(29.929,995)(30.001,916)(30.074,877)(30.183,880)(30.256,830)(30.329,768)(30.401,799)(30.510,822)(30.619,799)(30.729,713)(30.838,692)(30.910,713)(31.019,815)(31.129,830)(31.238,807)(31.347,783)(31.456,736)(31.565,728)(31.674,744)(31.783,768)(31.892,760)(32.001,775)(32.110,744)(32.220,760)(32.329,783)(32.401,846)(32.459,916)(32.547,877)(32.619,890)(32.729,822)(32.838,783)(32.947,752)(33.056,713)(33.165,713)(33.274,708)(33.383,713)(33.492,697)(33.601,689)(33.710,658)(33.820,639)(33.929,666)(33.950,681)
};
\addlegendentry{\$100k < i < \$1M}

\addplot[cbrown] coordinates {
(10.25,482)(19.746,482)(19.84,0)(25.84,0)(25.93,525)(29.0,525)(29.09,1000)(29.75,1000)(29.84,838)(33.95,838)
};
\addlegendentry{\$1M < i < \$10M}
\end{axis}

% ---------------- texts ----------------
\node[anchor=west, inner sep=0, font=\bfseries\fontsize{13.5}{15}\selectfont, text=black!85] at (83.25,-16.5) {ETH\_USDT};
\node[anchor=west, inner sep=0, font=\itshape\fontsize{11}{12}\selectfont, text=lblgray] at (6,-51) {Volume};
\node[rotate=-90, inner sep=0, font=\itshape\fontsize{11}{12}\selectfont, text=lblgray] at (951,-142.5) {Price [USDT]};
\node[rotate=90, inner sep=0, font=\itshape\fontsize{11}{12}\selectfont, text=lblgray] at (22.5,-348.75) {Normalized CVD [arb. u.]};
\node[inner sep=0, font=\itshape\fontsize{11}{12}\selectfont, text=lblgray] at (491.25,-459) {Date (UTC)};
\node[inner sep=0] at (333.75,-282.75) {\resizebox{180pt}{!}{\krfont\bfseries 곰지네 트레이딩 CVD}};
\node[inner sep=0] at (330.75,-307.5) {\resizebox{265pt}{!}{\krfont\bfseries Powered By Material Indictors}};
\node[inner sep=0] at (805.5,-487.5) {\resizebox{228pt}{!}{\krfont\bfseries https://t.me/oddstrading2}};
\end{tikzpicture}
\end{document}
